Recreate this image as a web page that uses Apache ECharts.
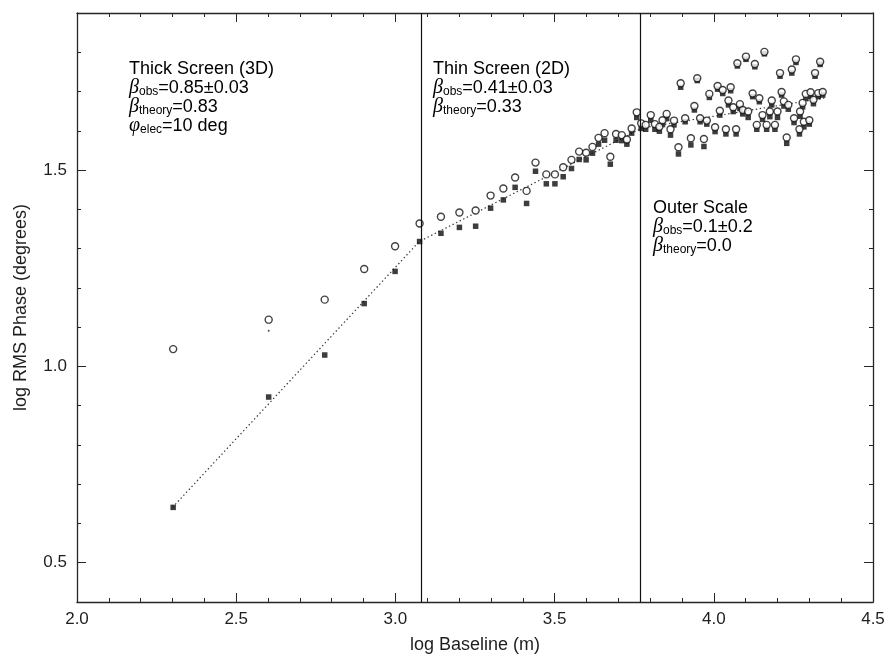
<!DOCTYPE html>
<html>
<head>
<meta charset="utf-8">
<script src="https://cdn.jsdelivr.net/npm/echarts@6/dist/echarts.min.js"></script>
<style>
  html, body { margin: 0; padding: 0; background: #fff; }
  #chart { width: 889px; height: 656px; }
</style>
</head>
<body>
<div id="chart"></div>
<script>
// log baseline (m) for each measured baseline
const logBaseline = [
  2.302, 2.602, 2.778, 2.902, 2.999, 3.076,
  3.143, 3.201, 3.252, 3.299, 3.339, 3.376, 3.412, 3.440, 3.474, 3.501,
  3.527, 3.553, 3.577, 3.599, 3.619, 3.638, 3.657, 3.675, 3.693, 3.711,
  3.727, 3.742, 3.758, 3.772, 3.786,
  3.802, 3.815, 3.829, 3.839, 3.852, 3.864, 3.875, 3.889, 3.896, 3.910,
  3.928, 3.939, 3.948, 3.957, 3.969, 3.978, 3.986, 4.004, 4.012, 4.019,
  4.028, 4.038, 4.046, 4.053, 4.061, 4.070, 4.074, 4.082, 4.091, 4.101,
  4.108, 4.122, 4.129, 4.135, 4.143, 4.153, 4.159, 4.166, 4.176, 4.182,
  4.192, 4.200, 4.208, 4.213, 4.220, 4.229, 4.234, 4.245, 4.252, 4.258,
  4.269, 4.271, 4.279, 4.283, 4.289, 4.300, 4.304, 4.313, 4.318, 4.328,
  4.334, 4.342
];

// log RMS phase (deg), raw (open circles)
const rmsPhaseRaw = [
  1.044, 1.119, 1.170, 1.248, 1.306, 1.364,
  1.381, 1.392, 1.397, 1.435, 1.453, 1.481, 1.447, 1.519, 1.489, 1.489,
  1.507, 1.526, 1.547, 1.544, 1.559, 1.582, 1.594, 1.534, 1.592, 1.589,
  1.578, 1.606, 1.647, 1.619, 1.615,
  1.640, 1.617, 1.610, 1.627, 1.643, 1.604, 1.626, 1.558, 1.721, 1.632,
  1.581, 1.663, 1.734, 1.632, 1.579, 1.626, 1.694, 1.609, 1.714, 1.651,
  1.704, 1.604, 1.677, 1.711, 1.660, 1.604, 1.772, 1.668, 1.653, 1.789,
  1.649, 1.695, 1.770, 1.615, 1.683, 1.640, 1.801, 1.615, 1.649, 1.677,
  1.615, 1.649, 1.747, 1.699, 1.675, 1.583, 1.666, 1.756, 1.632, 1.782,
  1.604, 1.649, 1.671, 1.623, 1.694, 1.627, 1.698, 1.679, 1.747, 1.696,
  1.776, 1.699
];

// log RMS phase (deg), noise-corrected (filled squares)
const rmsPhaseCorrected = [
  0.641, 0.922, 1.029, 1.160, 1.242, 1.318,
  1.339, 1.354, 1.357, 1.403, 1.424, 1.456, 1.415, 1.497, 1.465, 1.465,
  1.483, 1.504, 1.527, 1.526, 1.543, 1.566, 1.576, 1.515, 1.576, 1.575,
  1.566, 1.594, 1.634, 1.606, 1.604,
  1.627, 1.604, 1.599, 1.616, 1.631, 1.589, 1.615, 1.541, 1.711, 1.623,
  1.564, 1.653, 1.728, 1.623, 1.560, 1.617, 1.685, 1.598, 1.706, 1.640,
  1.695, 1.592, 1.666, 1.702, 1.649, 1.592, 1.765, 1.657, 1.643, 1.782,
  1.634, 1.687, 1.763, 1.604, 1.674, 1.629, 1.796, 1.604, 1.636, 1.666,
  1.604, 1.634, 1.739, 1.691, 1.663, 1.568, 1.655, 1.747, 1.621, 1.774,
  1.592, 1.637, 1.661, 1.610, 1.683, 1.617, 1.688, 1.669, 1.739, 1.687,
  1.769, 1.691
];

// stray single-pixel mark
const strayMark = [[2.602, 1.091]];

// piecewise power-law fit: [log baseline, log RMS phase] at the segment ends
const fitLine = [[2.30, 0.641], [3.075, 1.318], [3.775, 1.607], [4.35, 1.684]];

// boundaries between the turbulence regimes (log baseline)
const regimeBreaks = [3.075, 3.775];

// axis ticks
const xMin = 2.0, xMax = 4.5, xStep = 0.5;
const yMin = 0.4, yMax = 1.9;
const yLabelTicks = [0.5, 1.0, 1.5];
const yMinorTicks = [0.4, 0.5, 0.6, 0.7, 0.8, 0.9, 1.0, 1.1, 1.2, 1.3, 1.4, 1.5, 1.6, 1.7, 1.8, 1.9];

const sans = '"Liberation Sans", Arial, Helvetica, sans-serif';
const ink = '#1e1e1e';
const frame = '#262626';

const zip = (xs, ys) => xs.map((x, i) => [x, ys[i]]);

const chart = echarts.init(document.getElementById('chart'), null, { renderer: 'canvas' });

function xAxisDef(pos, withLabels) {
  return {
    type: 'value', position: pos, min: xMin, max: xMax, interval: xStep,
    axisLine: { show: true, onZero: false, lineStyle: { color: frame, width: 1.3 } },
    axisTick: { show: true, inside: true, length: 9, lineStyle: { color: frame, width: 1 } },
    minorTick: { show: true, splitNumber: 5, length: 4, lineStyle: { color: frame, width: 1 } },
    splitLine: { show: false }, minorSplitLine: { show: false },
    axisLabel: {
      show: withLabels, margin: 9, fontSize: 17, color: ink, fontFamily: sans,
      formatter: v => v.toFixed(1)
    },
    name: withLabels ? 'log Baseline (m)' : '',
    nameLocation: 'middle', nameGap: 34,
    nameTextStyle: { fontSize: 18, color: ink, fontFamily: sans }
  };
}

function yAxisDef(pos, ticks, len, withLabels, withLine) {
  return {
    type: 'value', position: pos, min: yMin, max: yMax,
    axisLine: { show: withLine, onZero: false, lineStyle: { color: frame, width: 1.3 } },
    axisTick: { show: true, inside: true, length: len, customValues: ticks, lineStyle: { color: frame, width: 1 } },
    splitLine: { show: false },
    axisLabel: {
      show: withLabels, customValues: yLabelTicks, margin: 10, fontSize: 17, color: ink, fontFamily: sans,
      formatter: v => v.toFixed(1)
    },
    name: withLabels ? 'log RMS Phase (degrees)' : '',
    nameLocation: 'middle', nameGap: 47,
    nameTextStyle: { fontSize: 18, color: ink, fontFamily: sans }
  };
}

const rich = {
  n: { fontFamily: sans, fontSize: 18, color: ink, lineHeight: 19 },
  g: { fontFamily: '"Liberation Serif", "DejaVu Serif", serif', fontStyle: 'italic', fontSize: 20, color: ink, lineHeight: 19 },
  s: { fontFamily: sans, fontSize: 12, color: ink, lineHeight: 8, verticalAlign: 'bottom' }
};

function note(left, top, lines) {
  return { type: 'text', left: left, top: top, silent: true, style: { text: lines.join('\n'), rich: rich } };
}

chart.setOption({
  animation: false,
  backgroundColor: '#fff',
  grid: { left: 77, right: 16, top: 13, bottom: 54, containLabel: false, outerBoundsMode: 'none' },
  xAxis: [xAxisDef('bottom', true), xAxisDef('top', false)],
  yAxis: [
    yAxisDef('left', yLabelTicks, 9, true, true),
    yAxisDef('left', yMinorTicks, 4, false, false),
    yAxisDef('right', yLabelTicks, 9, false, true),
    yAxisDef('right', yMinorTicks, 4, false, false)
  ],
  series: [
    {
      type: 'line', data: fitLine, symbol: 'none', silent: true, z: 1,
      lineStyle: { color: '#333', width: 1.2, type: [1.4, 2.6] },
      markLine: {
        silent: true, symbol: ['none', 'none'], label: { show: false },
        lineStyle: { color: '#111', width: 1.2, type: 'solid' },
        data: regimeBreaks.map(v => ({ xAxis: v }))
      }
    },
    {
      type: 'scatter', data: zip(logBaseline, rmsPhaseCorrected), symbol: 'rect', symbolSize: 5.5, z: 2,
      itemStyle: { color: '#0d0d0d' }
    },
    {
      type: 'scatter', data: zip(logBaseline, rmsPhaseRaw), symbol: 'circle', symbolSize: 7, z: 3,
      itemStyle: { color: '#fff', borderColor: '#111', borderWidth: 1.4 }
    },
    {
      type: 'scatter', data: strayMark, symbol: 'circle', symbolSize: 2, z: 3,
      itemStyle: { color: '#222' }
    }
  ],
  graphic: [
    note(129, 60, [
      '{n|Thick Screen (3D)}',
      '{g|β}{s|obs}{n|=0.85±0.03}',
      '{g|β}{s|theory}{n|=0.83}',
      '{g|φ}{s|elec}{n|=10 deg}'
    ]),
    note(433, 60, [
      '{n|Thin Screen (2D)}',
      '{g|β}{s|obs}{n|=0.41±0.03}',
      '{g|β}{s|theory}{n|=0.33}'
    ]),
    note(653, 199, [
      '{n|Outer Scale}',
      '{g|β}{s|obs}{n|=0.1±0.2}',
      '{g|β}{s|theory}{n|=0.0}'
    ])
  ]
});
</script>
</body>
</html>
